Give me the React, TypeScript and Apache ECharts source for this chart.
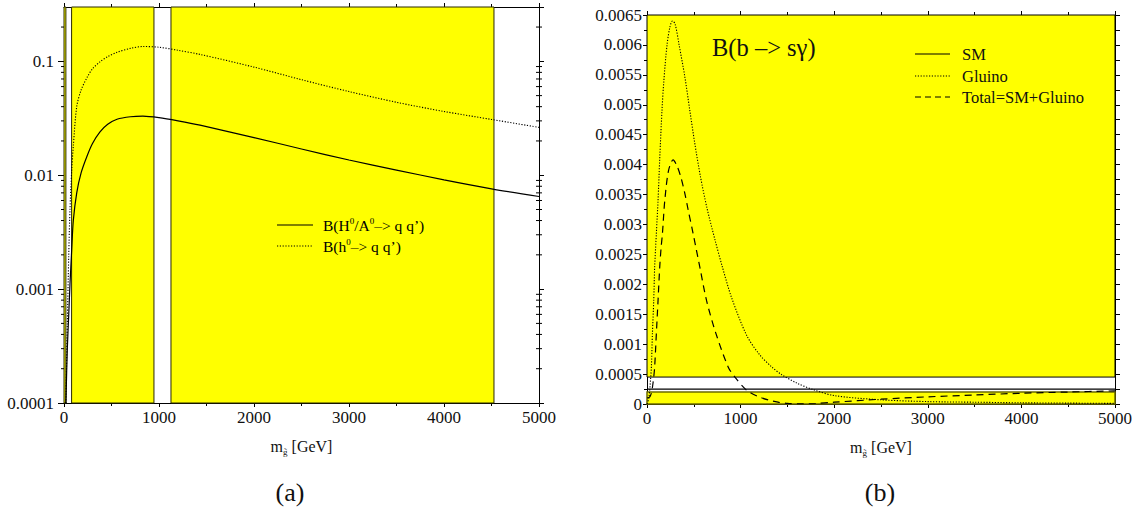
import React, { useEffect, useRef } from 'react';
import * as echarts from 'echarts';

const SERIF = 'Liberation Serif';

// ---------- Panel (a): Higgs branching ratios (log scale) ----------
const massA = [20, 35, 50, 63, 81, 98, 134, 180, 242, 300, 379, 460, 558, 700, 830, 1000, 1200, 1432, 2000, 2500, 3000, 3500, 4000, 4500, 5000];
const bHeavy = [0.0001, 0.0003, 0.0006, 0.0011, 0.0022, 0.004, 0.007, 0.0105, 0.0147, 0.019, 0.024, 0.028, 0.031, 0.0326, 0.033, 0.032, 0.030, 0.0275, 0.0214, 0.017, 0.0136, 0.0111, 0.0091, 0.0076, 0.0065];
const bLight = [0.0001, 0.0005, 0.002, 0.005, 0.011, 0.018, 0.04, 0.056, 0.072, 0.086, 0.099, 0.11, 0.12, 0.13, 0.135, 0.133, 0.125, 0.115, 0.089, 0.069, 0.0543, 0.0437, 0.0363, 0.0309, 0.0263];
const regionsA = [[0, 20], [80, 947], [1126, 4526]];
const logMinorTicks = [
  0.0002, 0.0003, 0.0004, 0.0005, 0.0006, 0.0007, 0.0008, 0.0009,
  0.002, 0.003, 0.004, 0.005, 0.006, 0.007, 0.008, 0.009,
  0.02, 0.03, 0.04, 0.05, 0.06, 0.07, 0.08, 0.09,
  0.2,
];

// ---------- Panel (b): B(b -> s gamma) ----------
const gluinoX = [0, 20, 40, 47, 58, 72, 82, 100, 118, 136, 160, 180, 214, 245, 272, 300, 343, 404, 457, 510, 571, 640, 725, 807, 903, 1064, 1200, 1332, 1439, 1600, 1777, 2000, 2500, 3000, 3500, 4000, 4500, 5000];
const gluinoY = [0, 0.0001, 0.00045, 0.00062, 0.00118, 0.00173, 0.00229, 0.00285, 0.0034, 0.0041, 0.0049, 0.0054, 0.006, 0.0063, 0.0064, 0.00635, 0.006, 0.00547, 0.00491, 0.00436, 0.0038, 0.00328, 0.00275, 0.00228, 0.00178, 0.00115, 0.00083, 0.00062, 0.00049, 0.00035, 0.00024, 0.00014, 0.00007, 0.00004, 0.00003, 0.00002, 0.000015, 0.00001];
const totalX = [0, 30, 50, 60, 72, 82, 100, 118, 136, 150, 165, 190, 230, 279, 320, 360, 404, 439, 493, 564, 636, 736, 867, 939, 1064, 1180, 1296, 1400, 1500, 1650, 1800, 2000, 2500, 3000, 3500, 4000, 4500, 5000];
const totalY = [0.0001, 0.00012, 0.0002, 0.0003, 0.00045, 0.00062, 0.00118, 0.00173, 0.00229, 0.0026, 0.00285, 0.0034, 0.0039, 0.00408, 0.00398, 0.0038, 0.00352, 0.00325, 0.002845, 0.00229, 0.00173, 0.00118, 0.00062, 0.00045, 0.00023, 0.00013, 0.000067, 0.00003, 0.00001, 0.000002, 0.000008, 0.00003, 0.00008, 0.00012, 0.00015, 0.00018, 0.0002, 0.00022];
const smX = [0, 5000];
const smY = [0.00025, 0.00025];
const regionsB = [[0, 0.0002], [0.00045, 0.0065]];

const xTickLabels = ['0', '1000', '2000', '3000', '4000', '5000'];

const pair = (xs: number[], ys: number[]) => xs.map((x, i) => [x, ys[i]]);

const labelStyle = { color: '#111', fontFamily: SERIF, fontSize: 17 };
const nameRich = {
  m: { fontFamily: SERIF, fontSize: 16, color: '#111', lineHeight: 19 },
  s: { fontFamily: SERIF, fontSize: 9, color: '#111', lineHeight: 9, verticalAlign: 'bottom' },
};
const supRich = {
  a: { fontFamily: SERIF, fontSize: 15.5, color: '#111', lineHeight: 18 },
  s: { fontFamily: SERIF, fontSize: 9, color: '#111', lineHeight: 9, verticalAlign: 'top' },
};
const fmt = (v: number) => String(Number(Number(v).toPrecision(4)));
const axisLine = { show: true, onZero: false, lineStyle: { color: '#000', width: 1 } };

function xAxisDef(grid: number, pos: 'bottom' | 'top') {
  return {
    gridIndex: grid,
    type: 'value',
    position: pos,
    min: 0,
    max: 5000,
    interval: 1000,
    axisLine,
    axisTick: { show: true, length: 4, lineStyle: { color: '#000' } },
    minorTick: { show: true, splitNumber: 2, length: 3, lineStyle: { color: '#000' } },
    splitLine: { show: false },
    axisLabel: pos === 'bottom'
      ? { ...labelStyle, margin: 6, formatter: (v: number) => xTickLabels[Math.round(v / 1000)] ?? String(v) }
      : { show: false },
    name: pos === 'bottom' ? '{m|m}{s|g\u0303}{m| [GeV]}' : '',
    nameLocation: 'middle',
    nameGap: 34,
    nameTextStyle: { fontFamily: SERIF, rich: nameRich },
  };
}

const solid = { color: '#000', width: 1.2 };
const dotted = { color: '#000', width: 1.1, type: [1.2, 1.6] };
const dashed = { color: '#000', width: 1.2, type: [7, 5] };

const gtext = (x: number, y: number, text: string, size: number, extra: any = {}) => ({
  type: 'text', x, y, z: 100,
  style: { text, fontFamily: SERIF, fontSize: size, fill: '#111', verticalAlign: 'middle', ...extra },
});
const gline = (x1: number, y1: number, x2: number, y2: number, dash?: number[]) => ({
  type: 'line', z: 100,
  shape: { x1, y1, x2, y2 },
  style: { stroke: '#000', lineWidth: 1.2, lineDash: dash },
});

const option: any = {
  animation: false,
  backgroundColor: '#fff',
  textStyle: { fontFamily: SERIF },
  grid: [
    { left: 64, top: 7, width: 475, height: 396 },
    { left: 647, top: 15, width: 468, height: 389 },
  ],
  xAxis: [xAxisDef(0, 'bottom'), xAxisDef(0, 'top'), xAxisDef(1, 'bottom'), xAxisDef(1, 'top')],
  yAxis: [
    {
      gridIndex: 0, type: 'log', position: 'left', min: 0.0001, max: 0.3, splitNumber: 3,
      axisLine, axisTick: { show: true, length: 6, lineStyle: { color: '#000' } },
      splitLine: { show: false },
      axisLabel: { ...labelStyle, margin: 10, showMaxLabel: false, formatter: fmt },
    },
    {
      gridIndex: 0, type: 'log', position: 'right', min: 0.0001, max: 0.3, splitNumber: 3,
      axisLine, axisTick: { show: true, length: 5, lineStyle: { color: '#000' } },
      splitLine: { show: false }, axisLabel: { show: false },
    },
    {
      gridIndex: 1, type: 'value', position: 'left', min: 0, max: 0.0065, interval: 0.0005,
      axisLine, axisTick: { show: true, length: 4, lineStyle: { color: '#000' } },
      minorTick: { show: true, splitNumber: 2, length: 3, lineStyle: { color: '#000' } },
      splitLine: { show: false },
      axisLabel: { ...labelStyle, margin: 5, formatter: fmt },
    },
    {
      gridIndex: 1, type: 'value', position: 'right', min: 0, max: 0.0065, interval: 0.0005,
      axisLine, axisTick: { show: true, length: 5, lineStyle: { color: '#000' } },
      minorTick: { show: true, splitNumber: 2, length: 5, lineStyle: { color: '#000' } },
      splitLine: { show: false }, axisLabel: { show: false },
    },
  ],
  series: [
    {
      type: 'line', xAxisIndex: 0, yAxisIndex: 0, data: [], silent: true, z: 1,
      markArea: {
        silent: true,
        itemStyle: { color: '#ffff00', borderColor: '#2a2a00', borderWidth: 1 },
        data: regionsA.map(([a, b]) => [{ xAxis: a }, { xAxis: b }]),
      },
    },
    {
      type: 'custom', xAxisIndex: 0, yAxisIndex: 0, silent: true, z: 5, clip: false,
      data: logMinorTicks.map((v) => [0, v]),
      renderItem: (_p: any, api: any) => {
        const v = api.value(1);
        const l = api.coord([0, v]);
        const r = api.coord([5000, v]);
        return {
          type: 'group',
          children: [
            { type: 'line', shape: { x1: l[0] - 3, y1: l[1], x2: l[0], y2: l[1] }, style: { stroke: '#000', lineWidth: 1 } },
            { type: 'line', shape: { x1: r[0] - 3, y1: r[1], x2: r[0] + 3, y2: r[1] }, style: { stroke: '#000', lineWidth: 1 } },
          ],
        };
      },
    },
    {
      name: 'B(H0/A0 -> q q\')', type: 'line', xAxisIndex: 0, yAxisIndex: 0, z: 4,
      data: pair(massA, bHeavy), showSymbol: false, smooth: 0.3,
      lineStyle: solid,
    },
    {
      name: 'B(h0 -> q q\')', type: 'line', xAxisIndex: 0, yAxisIndex: 0, z: 4,
      data: pair(massA, bLight), showSymbol: false, smooth: 0.3,
      lineStyle: dotted,
    },
    {
      type: 'line', xAxisIndex: 2, yAxisIndex: 2, data: [], silent: true, z: 1,
      markArea: {
        silent: true,
        data: [
          [{ yAxis: regionsB[0][0], itemStyle: { color: '#ffff00', borderColor: '#6b6b00', borderWidth: 1.5 } }, { yAxis: regionsB[0][1] }],
          [{ yAxis: regionsB[1][0], itemStyle: { color: '#ffff00', borderColor: '#000', borderWidth: 1 } }, { yAxis: regionsB[1][1] }],
        ],
      },
    },
    {
      name: 'SM', type: 'line', xAxisIndex: 2, yAxisIndex: 2, z: 4,
      data: pair(smX, smY), showSymbol: false,
      lineStyle: solid,
    },
    {
      name: 'Gluino', type: 'line', xAxisIndex: 2, yAxisIndex: 2, z: 4,
      data: pair(gluinoX, gluinoY), showSymbol: false, smooth: 0.3,
      lineStyle: dotted,
    },
    {
      name: 'Total=SM+Gluino', type: 'line', xAxisIndex: 2, yAxisIndex: 2, z: 4,
      data: pair(totalX, totalY), showSymbol: false, smooth: 0.3,
      lineStyle: dashed,
    },
  ],
  graphic: [
    // legend (a)
    gline(277, 225, 313, 225),
    { type: 'text', x: 323, y: 225, z: 100, style: { text: '{a|B(H}{s|0}{a|/A}{s|0}{a|\u2013> q q\u2019)}', rich: supRich, verticalAlign: 'middle' } },
    gline(277, 246, 313, 246, [1.2, 1.6]),
    { type: 'text', x: 323, y: 246, z: 100, style: { text: '{a|B(h}{s|0}{a|\u2013> q q\u2019)}', rich: supRich, verticalAlign: 'middle' } },
    // title (b)
    gtext(712, 47, 'B(b \u2013> s\u03b3)', 24.5),
    // legend (b)
    gline(915, 54, 950, 54),
    gtext(962, 54, 'SM', 16.5),
    gline(915, 76, 950, 76, [1.2, 1.6]),
    gtext(962, 76, 'Gluino', 16.5),
    gline(915, 97, 950, 97, [6, 4]),
    gtext(962, 97, 'Total=SM+Gluino', 16.5),
    // captions
    gtext(290, 492, '(a)', 26, { align: 'center' }),
    gtext(880, 492, '(b)', 26, { align: 'center' }),
  ],
};

export default function App() {
  const ref = useRef<HTMLDivElement>(null);
  useEffect(() => {
    const chart = echarts.init(ref.current as HTMLDivElement, null, { renderer: 'svg' });
    chart.setOption(option);
    return () => chart.dispose();
  }, []);
  return (
    <div
      ref={ref}
      style={{ position: 'fixed', left: 0, top: 0, width: 1140, height: 513, background: '#fff' }}
    />
  );
}
